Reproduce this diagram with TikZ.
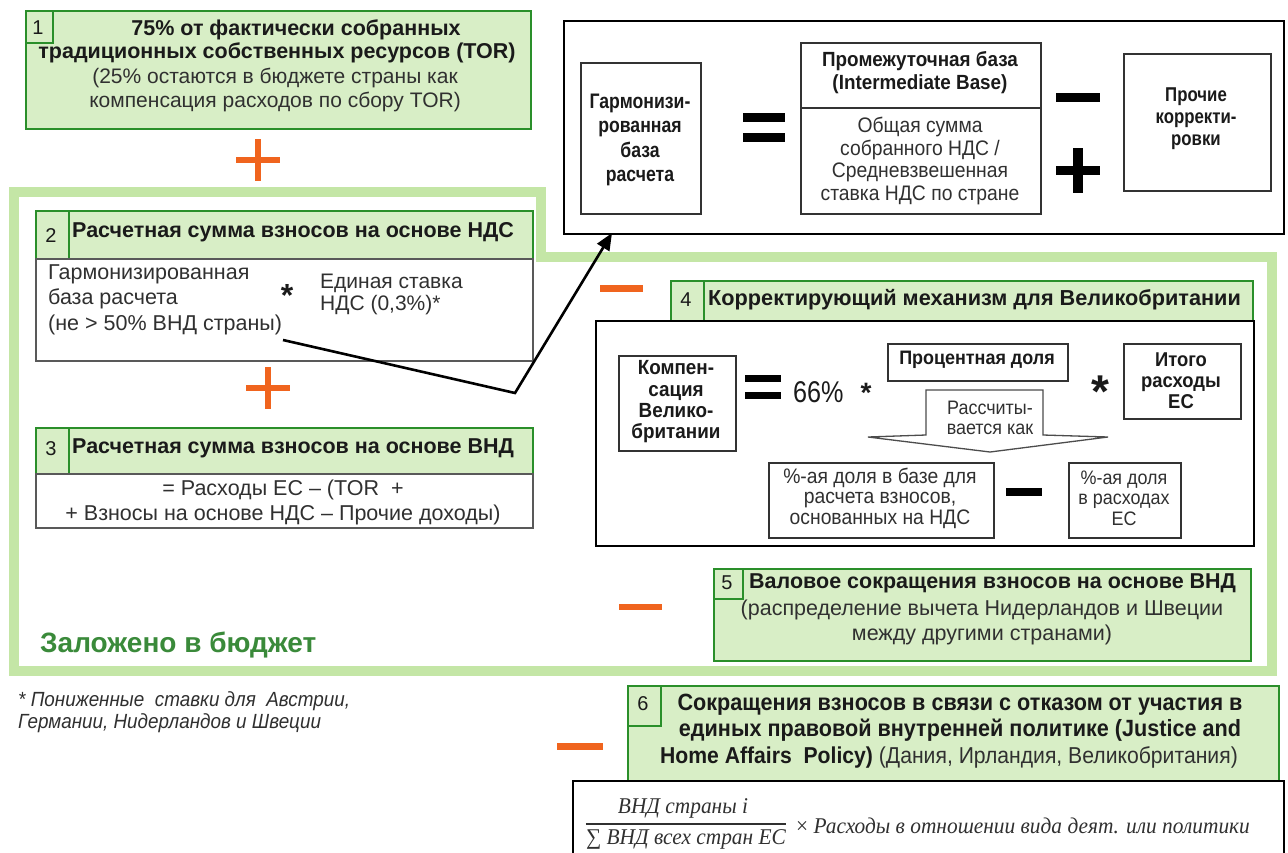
\documentclass[tikz,border=0pt]{standalone}
\usepackage{fontspec}
\setmainfont{Liberation Sans}
\newfontfamily\narrowfont[FakeStretch=0.84]{Liberation Sans}
\newfontfamily\midfont[FakeStretch=0.92]{Liberation Sans}
\newfontfamily\condfont[FakeStretch=0.74]{Liberation Sans}
\newfontfamily\formulafont[FakeStretch=0.95]{Liberation Serif}
\usetikzlibrary{arrows.meta}

\definecolor{gfill}{HTML}{D8EEC6}
\definecolor{gline}{HTML}{2A8F2A}
\definecolor{frame}{HTML}{C4E6A6}
\definecolor{orng}{HTML}{F0641E}
\definecolor{gtext}{HTML}{3A8A3A}
\definecolor{dtext}{HTML}{1A1A1A}
\definecolor{rtext}{HTML}{303030}

\newcommand\fs[2]{\fontsize{#1}{#2}\selectfont}
% rectangle node from its corners (pixel coordinates, y downwards)
\newcommand\rbox[6]{\node[#2, anchor=north west, inner sep=0pt,
  minimum width={#5-#3}, minimum height={#6-#4}] (#1) at (#3,#4) {};}

\tikzset{
  gbox/.style={draw=gline, fill=gfill, line width=2.2pt},
  numcell/.style={draw=gline, line width=2.2pt},
  wbox/.style={draw=black!65, fill=white, line width=1.5pt},
  kbox/.style={draw=black, fill=white, line width=2.4pt},
  ibox/.style={draw=black!80, fill=white, line width=1.5pt},
  tb/.style={inner sep=0pt, text=dtext, align=center},
  tr/.style={inner sep=0pt, text=rtext, align=center},
  num/.style={inner sep=0pt, text=dtext, font=\fs{20}{22}},
  orngbar/.style={fill=orng},
  blackbar/.style={fill=black},
}

\begin{document}
\begin{tikzpicture}[x=1pt,y=-1pt]
\useasboundingbox (0,0) rectangle (1288,852);
\fill[white] (0,0) rectangle (1288,852);

% ---- budget frame ----
\draw[frame, line width=10pt, line join=miter]
  (14,192) -- (541,192) -- (541,257) -- (1272,257) -- (1272,671) -- (14,671) -- cycle;

% ---- 1: traditional own resources ----
\rbox{b1}{gbox}{25}{10}{530}{128}
\rbox{n1}{numcell}{25}{10}{52}{42}
\node[num] (n1t) at (38,28) {1};
\node[tb, font=\fs{21.5}{23}\bfseries] (b1a) at (296,30) {75\% от фактически собранных};
\node[tb, font=\fs{21.5}{23}\bfseries] (b1b) at (277,53) {традиционных собственных ресурсов (TOR)};
\node[tr, font=\fs{21}{24.5}] (b1c) at (275,90) {(25\% остаются в бюджете страны как\\компенсация расходов по сбору TOR)};

% orange plus signs
\fill[orngbar] (236,157) rectangle (280,163);
\fill[orngbar] (255,139) rectangle (261,181);
\fill[orngbar] (246,385) rectangle (290,391);
\fill[orngbar] (265,367) rectangle (271,409);

% ---- 2: VAT-based contribution ----
\rbox{h2}{gbox}{35}{210}{532}{258}
\rbox{n2}{numcell}{35}{210}{68}{258}
\node[num] (n2t) at (51,236) {2};
\node[tb, anchor=west, font=\fs{21.5}{22}\bfseries] (h2t) at (72,232) {Расчетная сумма взносов на основе НДС};
\rbox{w2}{wbox}{35}{258}{532}{360}
\node[tr, anchor=north west, align=left, font=\fs{21.5}{25.5}] (w2a) at (48,264)
  {Гармонизированная\\база расчета\\(не > 50\% ВНД страны)};
\node[tb, font=\fs{32}{32}\bfseries] (w2s) at (287,295) {*};
\node[tr, anchor=north west, align=left, font=\fs{21}{22}] (w2b) at (320,274)
  {Единая ставка\\НДС (0,3\%)*};

% ---- 3: GNI-based contribution ----
\rbox{h3}{gbox}{35}{427}{532}{473}
\rbox{n3}{numcell}{35}{427}{68}{473}
\node[num] (n3t) at (51,449) {3};
\node[tb, anchor=west, font=\fs{21.5}{22}\bfseries] (h3t) at (72,448) {Расчетная сумма взносов на основе ВНД};
\rbox{w3}{wbox}{35}{473}{532}{527}
\node[tr, font=\fs{21.5}{25}] (w3a) at (283,502)
  {= Расходы ЕС -- (TOR\ \ +\\+ Взносы на основе НДС -- Прочие доходы)};

\node[inner sep=0pt, anchor=west, text=gtext, font=\fs{28}{30}\bfseries] (budget) at (40,645) {Заложено в бюджет};

\node[tr, anchor=north west, align=left, font=\midfont\fs{20.5}{22}\itshape] (foot) at (18,691)
  {* Пониженные\ \ ставки для\ \ Австрии,\\Германии, Нидерландов и Швеции};

% ---- harmonised base formula ----
\rbox{top}{kbox}{563}{20}{1283}{233}
\rbox{hb}{ibox}{580}{62}{700}{213}
\node[tb, font=\narrowfont\fs{21}{24.5}\bfseries] (hbt) at (640,140) {Гармонизи-\\рованная\\база\\расчета};
\fill[blackbar] (743,113) rectangle (785,122);
\fill[blackbar] (743,133) rectangle (785,142);
\rbox{ib}{ibox}{800}{42}{1040}{213}
\draw[black!80, line width=1.5pt] (ib.west |- 0,108) -- (ib.east |- 0,108);
\node[tb, font=\midfont\fs{20.5}{23}\bfseries] (ibt) at (920,73) {Промежуточная база\\(Intermediate Base)};
\node[tr, font=\midfont\fs{21}{22.7}] (ibb) at (920,161) {Общая сумма\\собранного НДС /\\Средневзвешенная\\ставка НДС по стране};
\fill[blackbar] (1056,93) rectangle (1100,102);
\fill[blackbar] (1056,166) rectangle (1100,175);
\fill[blackbar] (1073,148) rectangle (1083,193);
\rbox{pk}{ibox}{1123}{53}{1270}{190}
\node[tb, font=\narrowfont\fs{20}{22}\bfseries] (pkt) at (1196,119) {Прочие\\корректи-\\ровки};

% link from the harmonised base to its formula
\coordinate (la) at (283,340);
\coordinate (lb) at (515,393);
\coordinate (lc) at (612,233);
\draw[line width=2.6pt, line join=miter, -{Triangle[length=17pt,width=14pt]}] (la) -- (lb) -- (lc);

% ---- 4: UK correction ----
\fill[orngbar] (600,285) rectangle (643,292);
\rbox{h4}{gbox}{670}{280}{1252}{320}
\rbox{n4}{numcell}{670}{280}{703}{320}
\node[num] (n4t) at (686,300) {4};
\node[tb, anchor=west, font=\fs{21.7}{24}\bfseries] (h4t) at (708,300) {Корректирующий механизм для Великобритании};
\rbox{w4}{kbox}{595}{320}{1253}{545}
\rbox{kv}{ibox}{618}{355}{735}{450}
\node[tb, font=\midfont\fs{20.5}{21.3}\bfseries] (kvt) at (676,402) {Компен-\\сация\\Велико-\\британии};
\fill[blackbar] (745,375) rectangle (781,382);
\fill[blackbar] (745,392) rectangle (781,399);
\node[tb, anchor=west, font=\narrowfont\fs{30}{30}] (p66) at (793,392) {66\%};
\node[tb, font=\fs{28}{28}\bfseries] (p66s) at (866,393) {*};
\rbox{pd}{ibox}{887}{343}{1067}{380}
\node[tb, font=\midfont\fs{19.5}{20}\bfseries] (pdt) at (977,360) {Процентная доля};
\node[tb, font=\fs{46}{46}\bfseries] (big) at (1100,392) {*};
\rbox{ir}{ibox}{1123}{343}{1240}{418}
\node[tb, font=\midfont\fs{20}{21}\bfseries] (irt) at (1181,381) {Итого\\расходы\\ЕС};
\draw[black!70, fill=white, line width=1.3pt]
  (926,390) -- (1043,390) -- (1043,435) -- (1108,437) -- (990,452) -- (868,437) -- (926,435) -- cycle;
\node[tr, font=\midfont\fs{19.5}{20}] (rv) at (990,418) {Рассчиты-\\вается как};
\rbox{sv}{ibox}{768}{462}{993}{537}
\node[tr, font=\midfont\fs{21}{20.5}] (svt) at (880,498) {\%-ая доля в базе для\\расчета взносов,\\основанных на НДС};
\fill[blackbar] (1006,488) rectangle (1042,496);
\rbox{se}{ibox}{1068}{462}{1180}{537}
\node[tr, font=\midfont\fs{19.5}{20.5}] (set) at (1124,498) {\%-ая доля\\в расходах\\ЕС};

% ---- 5: gross reduction ----
\fill[orngbar] (619,604) rectangle (662,610);
\rbox{b5}{gbox}{713}{568}{1250}{660}
\rbox{n5}{numcell}{713}{568}{742}{598}
\node[num] (n5t) at (727,583) {5};
\node[tb, anchor=west, font=\fs{21.5}{23}\bfseries] (b5a) at (749,583) {Валовое сокращения взносов на основе ВНД};
\node[tr, font=\fs{21.5}{25}] (b5b) at (982,622) {(распределение вычета Нидерландов и Швеции\\между другими странами)};

% ---- 6: opt-out reductions ----
\fill[orngbar] (557,743) rectangle (603,750);
\rbox{b6}{gbox}{627}{685}{1278}{780}
\rbox{n6}{numcell}{627}{685}{660}{725}
\node[num] (n6t) at (643,704) {6};
\node[tb, font=\midfont\fs{23.5}{26}\bfseries] (b6a) at (960,718)
  {Сокращения взносов в связи с отказом от участия в\\единых правовой внутренней политике (Justice and};
\node[tb, anchor=west, font=\midfont\fs{23}{26}] (b6b) at (660,757)
  {\bfseries Home Affairs\ \ Policy) \mdseries\color{rtext}(Дания, Ирландия, Великобритания)};

% ---- allocation formula ----
\rbox{fb}{kbox}{572}{780}{1283}{870}
\node[tr, font=\formulafont\fs{22.5}{24}\itshape] (fnum) at (683,808) {ВНД страны i};
\node[tr, font=\formulafont\fs{22.5}{24}\itshape] (fden) at (686,839) {∑ ВНД всех стран ЕС};
\draw[rtext, line width=1.8pt] (fden.west |- 0,824) -- (fden.east |- 0,824);
\node[tr, anchor=west, font=\formulafont\fs{22.5}{24}\itshape] (frest) at (796,826) {\upshape×\itshape\ Расходы в отношении вида деят. или политики};

\end{tikzpicture}
\end{document}
